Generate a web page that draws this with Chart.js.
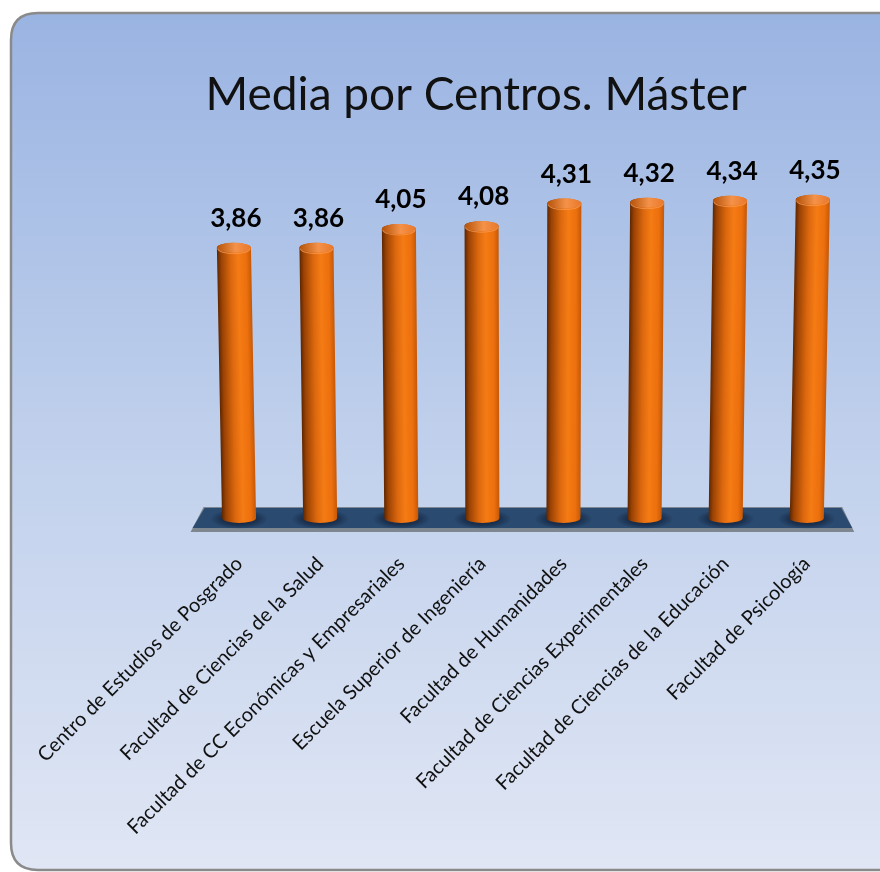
<!DOCTYPE html>
<html>
<head>
<meta charset="utf-8">
<script src="https://cdn.jsdelivr.net/npm/chart.js@4.4.0/dist/chart.umd.min.js"></script>
<style>
  html, body { margin: 0; padding: 0; background: #fff; }
  #wrap { width: 880px; height: 872px; }
</style>
</head>
<body>
<div id="wrap"><canvas id="grafico" width="880" height="872"></canvas></div>
<script>
// datos
var centros = [
  'Centro de Estudios de Posgrado',
  'Facultad de Ciencias de la Salud',
  'Facultad de CC Económicas y Empresariales',
  'Escuela Superior de Ingeniería',
  'Facultad de Humanidades',
  'Facultad de Ciencias Experimentales',
  'Facultad de Ciencias de la Educación',
  'Facultad de Psicología'
];
var medias = [3.86, 3.86, 4.05, 4.08, 4.31, 4.32, 4.34, 4.35];
var titulo = 'Media por Centros. Máster';
var ejeMin = 1, ejeMax = 5;

function fmt(v) { return v.toFixed(2).replace('.', ','); }

// fondo con borde redondeado
var fondo = {
  id: 'fondo',
  beforeDraw: function(chart) {
    var ctx = chart.ctx;
    ctx.save();
    ctx.fillStyle = '#ffffff';
    ctx.fillRect(0, 0, chart.width, chart.height);
    var x = 11, y = 13, w = 920, h = 857, r = 27;
    ctx.beginPath();
    ctx.moveTo(x + r, y);
    ctx.lineTo(x + w, y);
    ctx.lineTo(x + w, y + h);
    ctx.lineTo(x + r, y + h);
    ctx.quadraticCurveTo(x, y + h, x, y + h - r);
    ctx.lineTo(x, y + r);
    ctx.quadraticCurveTo(x, y, x + r, y);
    ctx.closePath();
    var g = ctx.createLinearGradient(0, y, 0, y + h);
    g.addColorStop(0, '#9ab4e2');
    g.addColorStop(0.5, '#c0d0ec');
    g.addColorStop(1, '#e0e6f4');
    ctx.fillStyle = g;
    ctx.fill();
    ctx.lineWidth = 2.5;
    ctx.strokeStyle = '#8a8a8a';
    ctx.stroke();
    ctx.restore();
  }
};

// suelo azul bajo los cilindros
var suelo = {
  id: 'suelo',
  beforeDatasetsDraw: function(chart) {
    var ctx = chart.ctx, a = chart.chartArea;
    var L = a.left, R = a.right, B = a.bottom;
    ctx.save();
    // canto gris
    ctx.beginPath();
    ctx.moveTo(L + 5, B - 16);
    ctx.lineTo(R - 5, B - 16);
    ctx.lineTo(R + 7, B + 9);
    ctx.lineTo(L - 8, B + 9);
    ctx.closePath();
    ctx.fillStyle = '#7e8790';
    ctx.fill();
    // cara superior
    ctx.beginPath();
    ctx.moveTo(L + 6, B - 15);
    ctx.lineTo(R - 6, B - 15);
    ctx.lineTo(R + 5, B + 5);
    ctx.lineTo(L - 6, B + 5);
    ctx.closePath();
    ctx.fillStyle = '#2a4a70';
    ctx.fill();
    ctx.restore();
  }
};

// cilindro con una ligera perspectiva (se abre hacia arriba)
function cilindro(ctx, x, top, base, w, cx) {
  var r = w / 2, e = 5, h = base - top;
  var sx = -(x - cx) / 15000;

  // sombra en el suelo
  ctx.save();
  ctx.translate(x, base - 4);
  ctx.scale(1, 10 / (r * 1.7));
  var sg = ctx.createRadialGradient(0, 0, 0, 0, 0, r * 1.7);
  sg.addColorStop(0, 'rgba(8,18,38,0.8)');
  sg.addColorStop(0.6, 'rgba(8,18,38,0.45)');
  sg.addColorStop(1, 'rgba(8,18,38,0)');
  ctx.fillStyle = sg;
  ctx.beginPath();
  ctx.arc(0, 0, r * 1.7, 0, Math.PI * 2);
  ctx.fill();
  ctx.restore();

  ctx.save();
  ctx.translate(x, base);
  ctx.transform(1, 0, sx, 1, 0, 0);

  // cuerpo
  var g = ctx.createLinearGradient(-r, 0, r, 0);
  g.addColorStop(0, '#5e2600');
  g.addColorStop(0.12, '#9a4204');
  g.addColorStop(0.4, '#dc680e');
  g.addColorStop(0.62, '#f57b14');
  g.addColorStop(0.85, '#ec700e');
  g.addColorStop(1, '#c65806');
  ctx.beginPath();
  ctx.moveTo(-r, -h + e);
  ctx.lineTo(-r, -e);
  ctx.ellipse(0, -e, r, e, 0, Math.PI, 0, true);
  ctx.lineTo(r, -h + e);
  ctx.ellipse(0, -h + e, r, e, 0, 0, Math.PI, true);
  ctx.closePath();
  ctx.fillStyle = g;
  ctx.fill();

  // tapa
  var t = ctx.createLinearGradient(-r, 0, r, 0);
  t.addColorStop(0, '#b4520a');
  t.addColorStop(0.55, '#f5924a');
  t.addColorStop(1, '#e8782a');
  ctx.beginPath();
  ctx.ellipse(0, -h + e, r, e, 0, 0, Math.PI * 2);
  ctx.fillStyle = t;
  ctx.fill();
  ctx.lineWidth = 1;
  ctx.strokeStyle = 'rgba(250,160,90,0.7)';
  ctx.beginPath();
  ctx.ellipse(0, -h + e + 1, r - 1, e, 0, 0, Math.PI, false);
  ctx.stroke();
  ctx.restore();

  return x - sx * h; // centro de la tapa
}

var cilindros = {
  id: 'cilindros',
  afterDatasetsDraw: function(chart) {
    var ctx = chart.ctx, a = chart.chartArea;
    var cx = (a.left + a.right) / 2;
    var meta = chart.getDatasetMeta(0);
    var tapas = [];
    ctx.save();
    meta.data.forEach(function(bar, i) {
      tapas.push(cilindro(ctx, bar.x, bar.y, bar.base, bar.width, cx));
    });
    ctx.font = 'bold 26px Lato';
    ctx.fillStyle = '#000';
    ctx.textAlign = 'center';
    ctx.textBaseline = 'alphabetic';
    meta.data.forEach(function(bar, i) {
      ctx.fillText(fmt(medias[i]), tapas[i] + 2, bar.y - 16);
    });
    ctx.restore();
  }
};

var ctx = document.getElementById('grafico');
var chart = new Chart(ctx, {
  type: 'bar',
  data: {
    labels: centros,
    datasets: [{
      label: 'Media',
      data: medias,
      base: ejeMin,
      backgroundColor: 'rgba(0,0,0,0)',
      borderWidth: 0,
      barPercentage: 0.42,
      categoryPercentage: 1
    }]
  },
  options: {
    responsive: false,
    animation: false,
    devicePixelRatio: 1,
    layout: { padding: { top: 0, left: 105, right: 32.75, bottom: 0 } },
    plugins: {
      legend: { display: false },
      tooltip: { enabled: false },
      title: {
        display: true,
        text: titulo,
        color: '#111',
        font: { family: 'Lato', size: 46, weight: 'normal', lineHeight: 1.2 },
        padding: { top: 67.4, bottom: 8.4 }
      }
    },
    scales: {
      x: {
        grid: { display: false, drawTicks: false },
        border: { display: false },
        ticks: {
          autoSkip: false,
          minRotation: 45,
          maxRotation: 45,
          padding: 29,
          color: '#111',
          font: { family: 'Lato', size: 20 }
        },
        afterFit: function(s) { s.height = 349; }
      },
      y: {
        min: ejeMin,
        max: ejeMax,
        grid: { display: false, drawTicks: false },
        border: { display: false },
        ticks: { display: false },
        afterFit: function(s) { s.width = 90.25; }
      }
    }
  },
  plugins: [fondo, suelo, cilindros]
});
</script>
</body>
</html>
